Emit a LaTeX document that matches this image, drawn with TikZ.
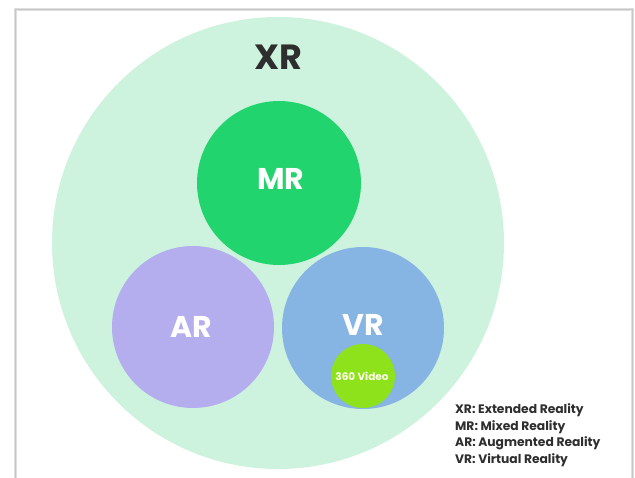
\documentclass[tikz,border=0pt]{standalone}
\usepackage{fontspec}
\setmainfont{Poppins}
\definecolor{xrcol}{HTML}{CDF3DE}
\definecolor{mrcol}{HTML}{22D46E}
\definecolor{arcol}{HTML}{B4AEEE}
\definecolor{vrcol}{HTML}{86B4E3}
\definecolor{vidcol}{HTML}{8EE21C}
\definecolor{txtcol}{HTML}{2E2E2E}
\tikzset{
  ring/.style={circle,inner sep=0pt,draw=none},
  biglabel/.style={text=white,font=\fontsize{30}{33}\selectfont\bfseries},
  legend/.style={text=txtcol,font=\fontsize{12.3}{14}\selectfont\bfseries,anchor=west,inner sep=0pt}
}
\begin{document}
\begin{tikzpicture}[x=1pt,y=-1pt]
 \useasboundingbox (0,0) rectangle (635,478);
 \fill[white] (0,0) rectangle (635,478);
 % frame
 \draw[line width=3pt,color=gray!25] (15,482) -- (15,10) -- (632,10) -- (632,482);
 \draw[line width=1pt,color=gray!45] (15,482) -- (15,10) -- (632,10) -- (632,482);
 % circles
 \node[ring,fill=xrcol,minimum size=452pt] (xr) at (278,243) {};
 \node[ring,fill=mrcol,minimum size=164pt] (mr) at (279,183) {};
 \node[ring,fill=arcol,minimum size=162pt] (ar) at (193,327) {};
 \node[ring,fill=vrcol,minimum size=162pt] (vr) at (363,328) {};
 \node[ring,fill=vidcol,minimum size=64pt] (vid) at (363,376) {};
 % labels
 \node[text=txtcol,font=\fontsize{35}{38}\selectfont\bfseries] (xrtext) at (278,57) {XR};
 \node[biglabel] (mrtext) at (281,179) {MR};
 \node[biglabel] (artext) at (191,327) {AR};
 \node[biglabel] (vrtext) at (363,325) {VR};
 \node[text=white!92!yellow,font=\fontsize{10.5}{12}\selectfont\bfseries] (vidtext) at (362,376) {360 Video};
 % legend
 \node[legend] (lxr) at (455,410) {XR: Extended Reality};
 \node[legend] (lmr) at (455,427) {MR: Mixed Reality};
 \node[legend] (lar) at (455,443) {AR: Augmented Reality};
 \node[legend] (lvr) at (455,460) {VR: Virtual Reality};
\end{tikzpicture}
\end{document}
